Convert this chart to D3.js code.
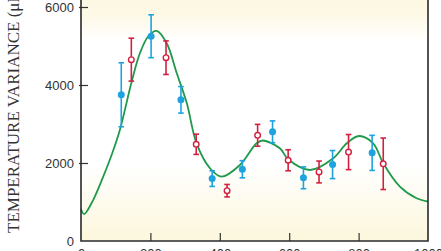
<!DOCTYPE html>
<html>
<head>
<meta charset="utf-8">
<script src="https://cdn.jsdelivr.net/npm/d3@7"></script>
<style>
  html, body { margin: 0; padding: 0; background: #fff; }
  svg { display: block; }
  .tick text { font-family: "Liberation Sans", Arial, sans-serif; font-size: 13px; fill: #333; }
</style>
</head>
<body>
<div id="chart"></div>
<script>
"use strict";

var width = 441;
var height = 251;

// measured points, multipole l vs temperature variance
var blueL = [116, 202, 288, 378, 465, 552, 641, 725, 839];
var blueV = [3750, 5250, 3620, 1600, 1840, 2800, 1620, 1960, 2260];
var blueErr = [820, 550, 340, 200, 220, 280, 280, 360, 450];

var redL = [145, 245, 332, 421, 509, 597, 686, 771, 871];
var redV = [4650, 4700, 2480, 1290, 2710, 2070, 1770, 2280, 1980];
var redErr = [550, 430, 260, 160, 280, 270, 280, 450, 660];

// theory curve
var curveL = [0, 9, 35, 64, 90, 112, 146, 170, 194, 218, 247, 276, 305, 333, 372, 405, 458, 506, 524, 573, 597, 660, 727, 766, 801, 842, 871, 919, 967, 1000];
var curveV = [813, 690, 1050, 1650, 2250, 2846, 4085, 4820, 5250, 5385, 5069, 4300, 3531, 2505, 1864, 1649, 1949, 2505, 2577, 2377, 2095, 1821, 2121, 2505, 2692, 2505, 1992, 1392, 1095, 1008];

var xTicks = [0, 200, 400, 600, 800, 1000];
var yTicks = [0, 2000, 4000, 6000];

var blueColor = "#1ea3df";
var redColor = "#d3203f";
var greenColor = "#1f9a4b";

var x = d3.scaleLinear().domain([0, 1000]).range([81, 428]);
var y = d3.scaleLinear().domain([0, 6000]).range([241, 7]);

var svg = d3.select("#chart").append("svg")
  .attr("width", width).attr("height", height);

var defs = svg.append("defs");
var grad = defs.append("linearGradient").attr("id", "bg")
  .attr("x1", 0).attr("y1", 0).attr("x2", 0).attr("y2", 1);
grad.append("stop").attr("offset", "0%").attr("stop-color", "#fcf6d8");
grad.append("stop").attr("offset", "17%").attr("stop-color", "#fdf9e6");
grad.append("stop").attr("offset", "27%").attr("stop-color", "#ffffff");
grad.append("stop").attr("offset", "72%").attr("stop-color", "#ffffff");
grad.append("stop").attr("offset", "100%").attr("stop-color", "#fcf7dc");

var plotTop = y(7000);
svg.append("rect")
  .attr("x", x(0)).attr("y", plotTop)
  .attr("width", x(1000) - x(0)).attr("height", y(0) - plotTop)
  .attr("fill", "url(#bg)");

// theory curve
var line = d3.line()
  .x(function (d) { return x(d[0]); })
  .y(function (d) { return y(d[1]); })
  .curve(d3.curveCatmullRom.alpha(0.5));

svg.append("path")
  .datum(d3.zip(curveL, curveV))
  .attr("d", line)
  .attr("fill", "none")
  .attr("stroke", greenColor)
  .attr("stroke-width", 1.8);

function drawPoints(ls, vs, errs, color, filled) {
  var data = d3.range(ls.length).map(function (i) {
    return { l: ls[i], v: vs[i], e: errs[i] };
  });
  var g = svg.append("g").selectAll("g").data(data).enter().append("g");
  g.append("line")
    .attr("x1", function (d) { return x(d.l); })
    .attr("x2", function (d) { return x(d.l); })
    .attr("y1", function (d) { return y(d.v + d.e); })
    .attr("y2", function (d) { return y(d.v - d.e); })
    .attr("stroke", color).attr("stroke-width", 1.6);
  [1, -1].forEach(function (s) {
    g.append("line")
      .attr("x1", function (d) { return x(d.l) - 2.8; })
      .attr("x2", function (d) { return x(d.l) + 2.8; })
      .attr("y1", function (d) { return y(d.v + s * d.e); })
      .attr("y2", function (d) { return y(d.v + s * d.e); })
      .attr("stroke", color).attr("stroke-width", 1.6);
  });
  g.append("circle")
    .attr("cx", function (d) { return x(d.l); })
    .attr("cy", function (d) { return y(d.v); })
    .attr("r", filled ? 3.5 : 2.8)
    .attr("fill", filled ? color : "#fff")
    .attr("stroke", color)
    .attr("stroke-width", filled ? 0 : 1.4);
}

drawPoints(blueL, blueV, blueErr, blueColor, true);
drawPoints(redL, redV, redErr, redColor, false);

// axes
var yAxis = d3.axisLeft(y).tickValues(yTicks).tickFormat(d3.format("d")).tickSize(-7).tickPadding(7);
var gY = svg.append("g").attr("transform", "translate(" + x(0) + ",0)").call(yAxis);
gY.select(".domain").remove();
gY.selectAll(".tick line").attr("x1", -2).attr("stroke", "#333").attr("stroke-width", 1.2);
gY.selectAll(".tick").filter(function (d) { return d === 0; }).select("line").remove();

var xAxis = d3.axisBottom(x).tickValues(xTicks).tickFormat(d3.format("d")).tickSize(-8).tickPadding(8);
var gX = svg.append("g").attr("transform", "translate(0," + y(0) + ")").call(xAxis);
gX.select(".domain").remove();
gX.selectAll(".tick line").attr("stroke", "#333").attr("stroke-width", 1.2);
gX.selectAll(".tick").filter(function (d) { return d === 0 || d === 1000; }).select("line").remove();

// frame
svg.append("path")
  .attr("d", "M" + x(0) + "," + plotTop + "V" + y(0) + "H" + x(1000) + "V" + plotTop)
  .attr("fill", "none")
  .attr("stroke", "#2a2a2a")
  .attr("stroke-width", 1.6);

svg.append("text")
  .attr("transform", "translate(19," + 233 + ") rotate(-90)")
  .attr("font-family", "'Liberation Serif', 'Times New Roman', serif")
  .attr("font-size", 17)
  .attr("fill", "#333")
  .text("TEMPERATURE VARIANCE (\u03bcK\u00b2)");
</script>
</body>
</html>
